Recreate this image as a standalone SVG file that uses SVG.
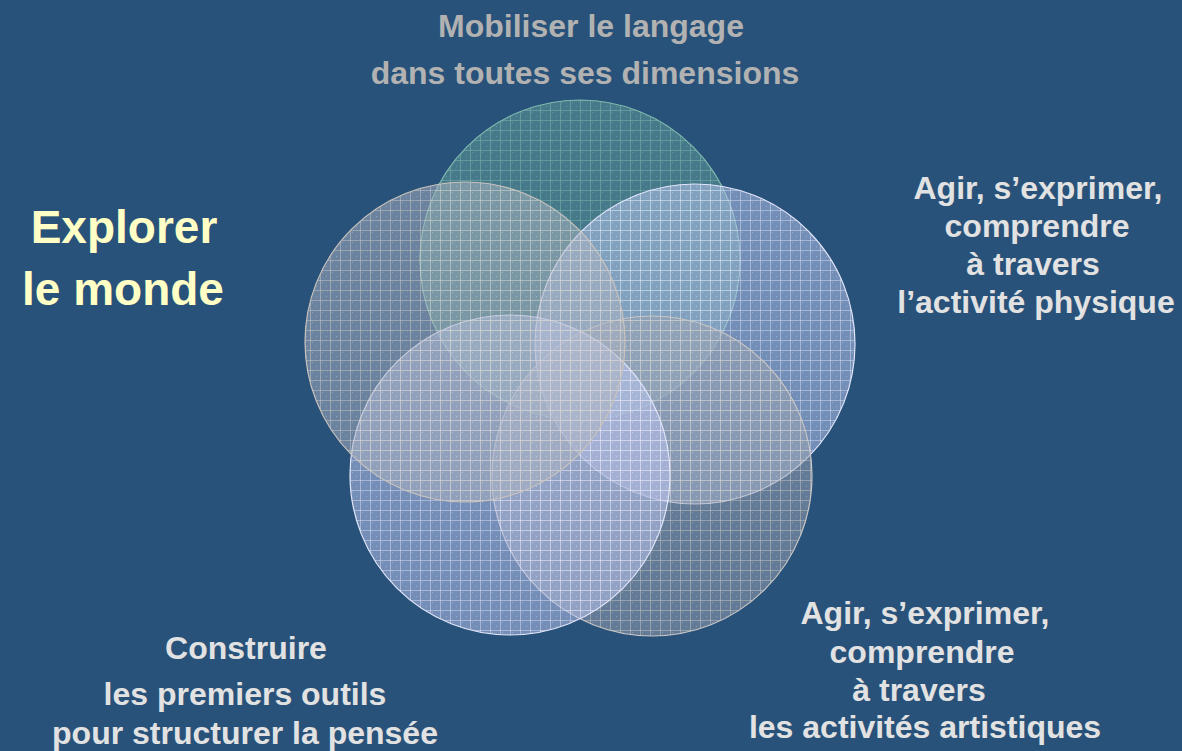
<svg xmlns="http://www.w3.org/2000/svg" width="1182" height="751" viewBox="0 0 1182 751">
<style>
.lbl{font-family:"Liberation Sans",Arial,sans-serif;font-weight:bold;font-size:32px;text-anchor:middle;fill:#e2e2e2}
.top{fill:#b2b2b2}
.big{font-size:46px;fill:#ffffc6}
.edge{fill:none;stroke-width:1.2}
</style>
<defs>
<pattern id="gT" patternUnits="userSpaceOnUse" width="10" height="10">
<rect x="2" y="2" width="1" height="1" fill="#9fd6c8" fill-opacity=".3"/><rect x="6" y="6" width="1" height="1" fill="#9fd6c8" fill-opacity=".3"/>
<path d="M0 .5H10M.5 0V10" stroke="#8fc9b8" stroke-opacity=".4" stroke-width="1"/>
</pattern>
<pattern id="gG" patternUnits="userSpaceOnUse" width="10" height="10">
<rect x="2" y="2" width="1" height="1" fill="#ece2d6" fill-opacity=".3"/><rect x="6" y="6" width="1" height="1" fill="#ece2d6" fill-opacity=".3"/>
<path d="M0 .5H10M.5 0V10" stroke="#e6dccf" stroke-opacity=".38" stroke-width="1"/>
</pattern>
<pattern id="gB" patternUnits="userSpaceOnUse" width="10" height="10">
<rect x="2" y="2" width="1" height="1" fill="#eef0ff" fill-opacity=".3"/><rect x="6" y="6" width="1" height="1" fill="#eef0ff" fill-opacity=".3"/>
<path d="M0 .5H10M.5 0V10" stroke="#f0f2ff" stroke-opacity=".4" stroke-width="1"/>
</pattern>
</defs>
<rect width="1182" height="751" fill="#29527a"/>
<g id="circle-langage">
<circle cx="580" cy="260" r="160" fill="#61a09b" fill-opacity=".52"/>
<circle cx="580" cy="260" r="160" fill="url(#gT)"/>
<circle class="edge" cx="580" cy="260" r="160" stroke="#7fb9ad"/>
</g>
<g id="circle-physique">
<circle cx="695" cy="344" r="160" fill="#b9c5f0" fill-opacity=".52"/>
<circle cx="695" cy="344" r="160" fill="url(#gB)"/>
<circle class="edge" cx="695" cy="344" r="160" stroke="#e2e6fa"/>
</g>
<g id="circle-artistiques">
<circle cx="652" cy="476" r="160" fill="#9da3b2" fill-opacity=".5"/>
<circle cx="652" cy="476" r="160" fill="url(#gG)"/>
<circle class="edge" cx="652" cy="476" r="160" stroke="#c9c6c6"/>
</g>
<g id="circle-outils">
<circle cx="510" cy="475" r="160" fill="#bcc6f0" fill-opacity=".52"/>
<circle cx="510" cy="475" r="160" fill="url(#gB)"/>
<circle class="edge" cx="510" cy="475" r="160" stroke="#e2e6fa"/>
</g>
<g id="circle-explorer">
<circle cx="465" cy="342" r="160" fill="#aeb3c2" fill-opacity=".5"/>
<circle cx="465" cy="342" r="160" fill="url(#gG)"/>
<circle class="edge" cx="465" cy="342" r="160" stroke="#c9c3bd"/>
</g>
<g id="label-langage">
<text class="lbl top" x="591" y="37">Mobiliser le langage</text>
<text class="lbl top" x="585" y="84">dans toutes ses dimensions</text>
</g>
<g id="label-explorer">
<text class="lbl big" x="124" y="243">Explorer</text>
<text class="lbl big" x="123" y="305">le monde</text>
</g>
<g id="label-physique">
<text class="lbl" x="1038" y="199">Agir, s’exprimer,</text>
<text class="lbl" x="1037" y="237">comprendre</text>
<text class="lbl" x="1033" y="275">à travers</text>
<text class="lbl" x="1036" y="313">l’activité physique</text>
</g>
<g id="label-outils">
<text class="lbl" x="246" y="659">Construire</text>
<text class="lbl" x="245" y="705">les premiers outils</text>
<text class="lbl" x="245" y="744">pour structurer la pensée</text>
</g>
<g id="label-artistiques">
<text class="lbl" x="925" y="624">Agir, s’exprimer,</text>
<text class="lbl" x="922" y="663">comprendre</text>
<text class="lbl" x="919" y="701">à travers</text>
<text class="lbl" x="925" y="738">les activités artistiques</text>
</g>
</svg>
